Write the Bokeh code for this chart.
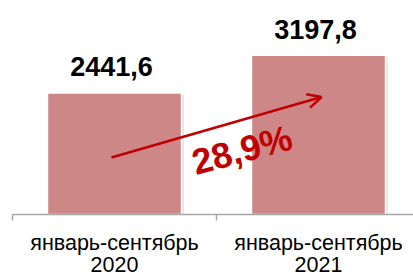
from bokeh.plotting import figure
from bokeh.models import Range1d, Arrow, OpenHead, ColumnDataSource
from bokeh.core.properties import value
from bokeh.embed import file_html
from bokeh.resources import INLINE

# data
categories = ["январь-сентябрь\n2020", "январь-сентябрь\n2021"]
values = [2441.6, 3197.8]
value_labels = ["2441,6", "3197,8"]
growth_label = "28,9%"

BAR_COLOR = "#CD8787"
RED = "#C00000"
AXIS_GRAY = "#A6A6A6"
FONT = "Liberation Sans"

W, H = 413, 272
Y_TOP, Y_BOTTOM = 4300, -1165          # value range shown (baseline at 0)
PX_PER_UNIT = H / (Y_TOP - Y_BOTTOM)

centers = [i + 0.5 for i in range(len(categories))]
bounds = [float(i) for i in range(len(categories) + 1)]

p = figure(width=W, height=H, output_backend="svg", toolbar_location=None,
           x_range=Range1d(-0.0588, 1.9657), y_range=Range1d(Y_BOTTOM, Y_TOP),
           min_border_left=0, min_border_right=0, min_border_top=0,
           min_border_bottom=0)
p.outline_line_color = None
p.xgrid.visible = False
p.ygrid.visible = False
p.xaxis.visible = False
p.yaxis.visible = False
p.background_fill_color = "white"
p.border_fill_color = "white"

src = ColumnDataSource(dict(x=centers, top=values, lab=value_labels))

# soft shadow
p.vbar(x=[c + 0.012 for c in centers], top=[v - 35 for v in values], width=0.657,
       bottom=0, fill_color="#000000", fill_alpha=0.10, line_color=None)
p.vbar(x="x", top="top", width=0.657, bottom=0, source=src, fill_color=BAR_COLOR,
       line_color="white", line_width=1.5)

p.text(x="x", y="top", text="lab", source=src, text_align="center",
       text_baseline="alphabetic", y_offset=-26, x_offset=-3,
       text_font=value(FONT), text_font_style="bold", text_font_size="27px",
       text_color="black")

# category axis: baseline, boundary ticks, two-line labels
tick_len = 6 / PX_PER_UNIT
p.segment(x0=[bounds[0]], y0=[0], x1=[bounds[-1]], y1=[0],
          line_color=AXIS_GRAY, line_width=1.5)
p.segment(x0=bounds, y0=[0] * len(bounds), x1=bounds, y1=[-tick_len] * len(bounds),
          line_color=AXIS_GRAY, line_width=1.5)
line1 = [c.split("\n")[0] for c in categories]
line2 = [c.split("\n")[1] for c in categories]
for lines, off in ((line1, 28), (line2, 50)):
    p.text(x=centers, y=[0] * len(centers), text=lines, y_offset=off,
           text_align="center", text_baseline="alphabetic",
           text_font=value(FONT), text_font_size="21.5px", text_color="black")

# growth arrow and label
x0, x1 = centers[0] - 0.015, centers[1] + 0.015
y0, y1 = values[0] * 0.469, values[1] * 0.738
p.add_layout(Arrow(x_start=x0, y_start=y0, x_end=x1, y_end=y1,
                   line_color=RED, line_width=2.5,
                   end=OpenHead(size=14, line_color=RED, line_width=2.5)))
p.text(x=[1.125], y=[1300], text=[growth_label], angle=15, angle_units="deg",
       text_align="center", text_baseline="middle",
       text_font=value(FONT), text_font_style="bold", text_font_size="36px",
       text_color=RED)

open("out.html", "w").write(file_html(p, INLINE))
